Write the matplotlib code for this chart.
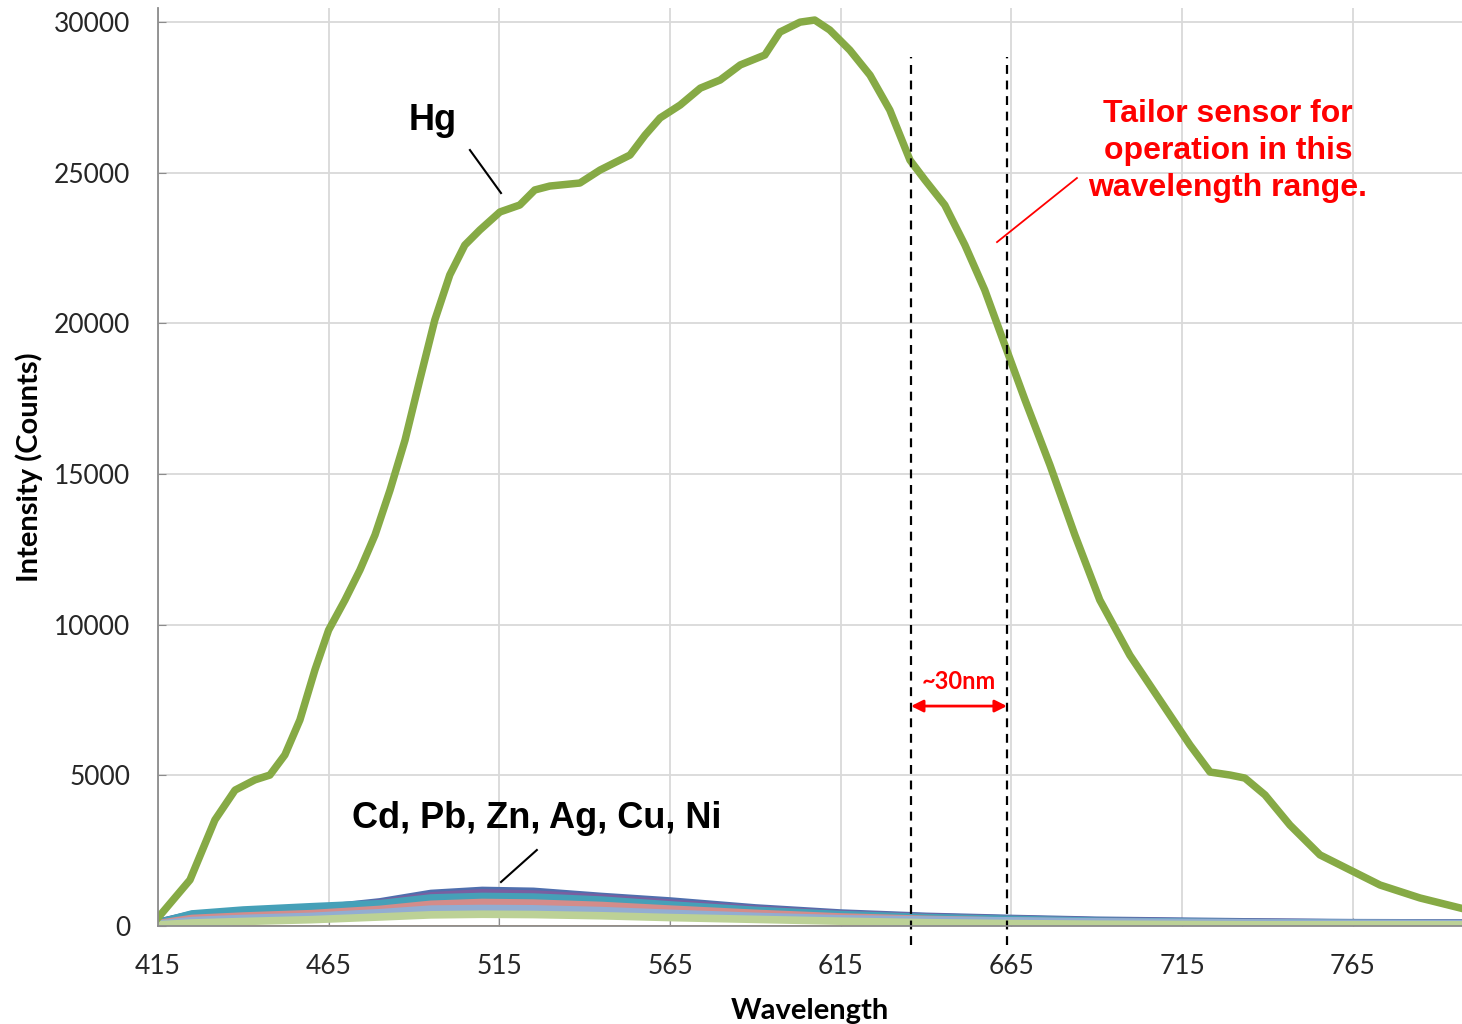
import matplotlib.pyplot as plt

# Hg spectrum
hg_wl = [415, 424.4, 431.7, 437.6, 443.4, 447.8, 452.2, 456.6, 461, 465, 469.8, 474.2,
         478.6, 483, 487.4, 491.7, 496.1, 500.5, 504.9, 509.3, 515.2, 521, 525.4, 529.8,
         538.6, 544.5, 553.3, 557.7, 562.1, 568, 573.9, 579.7, 585.6, 592.8, 597.2, 603.1,
         607.4, 611.8, 617.7, 623.6, 629.4, 635.3, 639.7, 645.5, 651.4, 657.2, 663.1, 669,
         676.3, 683.6, 690.9, 699.7, 708.5, 717.3, 723.2, 729.1, 733.4, 739.3, 746.6, 755.4,
         764.2, 773, 784.7, 796.4]
hg_int = [270, 1530, 3520, 4510, 4850, 5010, 5680, 6840, 8500, 9820, 10820, 11820,
          12980, 14470, 16130, 18120, 20110, 21610, 22600, 23100, 23700, 23930, 24430, 24560,
          24660, 25090, 25590, 26250, 26820, 27250, 27810, 28080, 28580, 28910, 29670, 30000,
          30070, 29740, 29070, 28240, 27080, 25420, 24760, 23930, 22600, 21110, 19280, 17460,
          15300, 12980, 10820, 8990, 7500, 6010, 5110, 5010, 4910, 4350, 3350, 2360,
          1860, 1360, 930, 600]

# other metals
wl = [415, 425, 440, 460, 480, 495, 510, 525, 545, 565, 590, 615, 640, 665, 690, 715, 740, 765, 797]
orange = [-100, -100, -100, -100, -100, -100, -100, -100, -100, -100, -100, -100, -100, -100, -30, -30, -100, -100, -100]
s_blue = [120, 380, 480, 560, 800, 1080, 1180, 1150, 980, 830, 600, 430, 320, 250, 190, 160, 130, 110, 100]
s_purple = [110, 360, 460, 560, 760, 1000, 1100, 1060, 930, 760, 560, 400, 300, 230, 170, 140, 120, 100, 90]
s_teal = [100, 400, 530, 640, 740, 930, 980, 960, 860, 700, 520, 380, 280, 220, 160, 130, 110, 90, 80]
s_pink = [80, 250, 330, 410, 550, 720, 780, 760, 680, 560, 420, 300, 220, 160, 120, 100, 80, 60, 50]
s_lblue = [60, 180, 250, 320, 440, 560, 580, 570, 510, 420, 320, 240, 200, 170, 140, 120, 100, 90, 80]
s_green = [40, 100, 150, 210, 300, 370, 390, 380, 340, 280, 220, 160, 110, 80, 60, 50, 40, 40, 40]

small = [(orange, '#f79646'), (s_blue, '#4f6fae'), (s_purple, '#7a5fa0'), (s_teal, '#45a0b8'),
         (s_pink, '#d48c8a'), (s_lblue, '#92add2'), (s_green, '#bcd196')]

xticks = [415, 465, 515, 565, 615, 665, 715, 765]
yticks = [0, 5000, 10000, 15000, 20000, 25000, 30000]

fig = plt.figure(figsize=(14.62, 10.24), dpi=100)
ax = fig.add_axes([0.108, 0.0957, 0.892, 0.8965])

for vals, c in small:
    ax.plot(wl, vals, color=c, lw=5.5, solid_capstyle='butt')
ax.plot(hg_wl, hg_int, color='#86aa45', lw=5.4)

ax.set_xlim(415, 797)
ax.set_ylim(0, 30470)
ax.set_xticks(xticks)
ax.set_yticks(yticks)
ax.grid(True, color='#d9d9d9', lw=1.3)
ax.set_axisbelow(True)
for s in ['top', 'right']:
    ax.spines[s].set_visible(False)
for s in ['left', 'bottom']:
    ax.spines[s].set_color('#8c8c8c')
    ax.spines[s].set_linewidth(1.3)
ax.tick_params(axis='both', direction='in', length=6, color='#8c8c8c', labelsize=19, pad=20)
for lab in ax.get_xticklabels() + ax.get_yticklabels():
    lab.set_family('Lato')
    lab.set_color('#262626')

ax.set_xlabel('Wavelength', family='Lato', fontweight='bold', fontsize=21, labelpad=14)
ax.set_ylabel('Intensity (Counts)', family='Lato', fontweight='bold', fontsize=21, labelpad=8)

# dashed range markers
for xv in [635.6, 663.7]:
    ax.plot([xv, xv], [-630, 28840], color='black', lw=1.6, ls=(0, (4, 3)), clip_on=False)

ax.annotate('', xy=(635.6, 7300), xytext=(663.7, 7300),
            arrowprops=dict(arrowstyle='<|-|>', color='red', lw=2, mutation_scale=18,
                            shrinkA=0, shrinkB=0))
ax.text(649.6, 7750, '~30nm', color='red', fontsize=17, fontweight='bold', family='Lato',
        ha='center', va='bottom')

ax.text(1228, 1024 - 151, 'Tailor sensor for\noperation in this\nwavelength range.',
        transform=None, color='red', fontsize=23, fontweight='bold',
        family='Liberation Sans', ha='center', va='center', linespacing=1.32)
ax.plot([684.2, 660.8], [24826, 22700], color='red', lw=1.3)

ax.text(433, 1024 - 120, 'Hg', transform=None, fontsize=26, fontweight='bold',
        family='Liberation Sans', ha='center', va='center')
ax.plot([506.4, 515.5], [25755, 24328], color='black', lw=1.5)

ax.text(537, 1024 - 818, 'Cd, Pb, Zn, Ag, Cu, Ni', transform=None, fontsize=26,
        fontweight='bold', family='Liberation Sans', ha='center', va='center')
ax.plot([526, 515.5], [2522, 1460], color='black', lw=1.5)

fig.savefig('out.png', dpi=100)
